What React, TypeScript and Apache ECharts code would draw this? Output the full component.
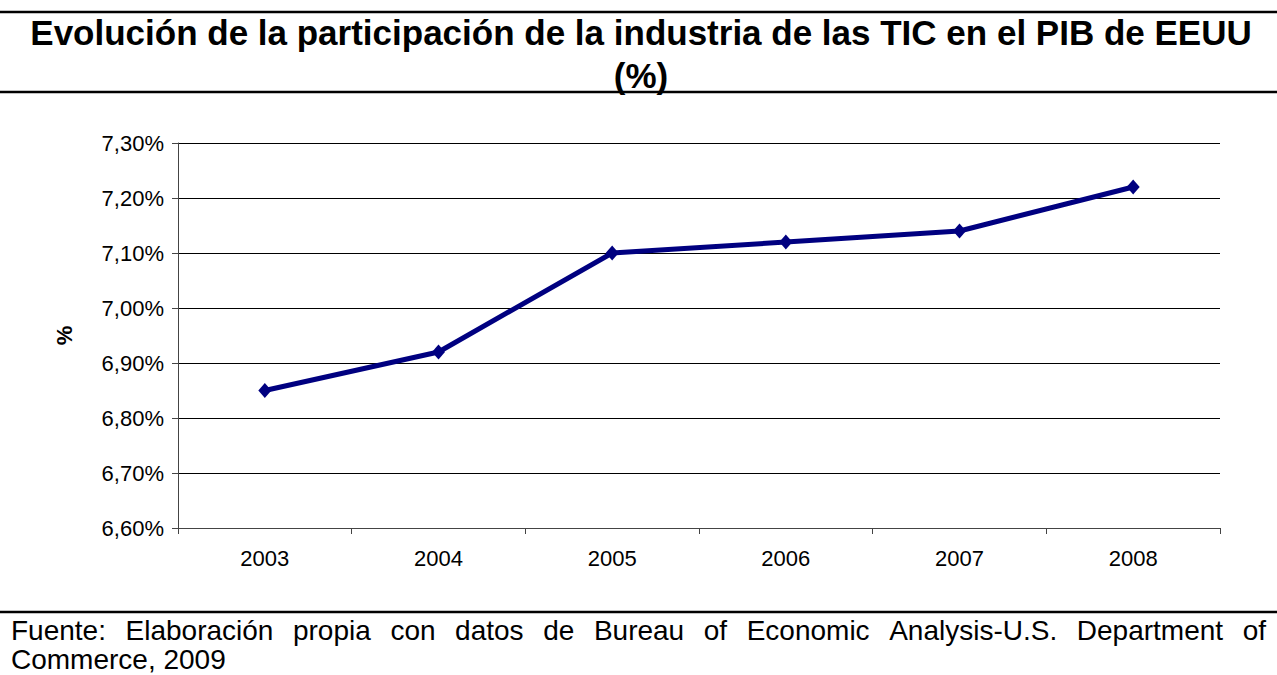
import React, { useEffect, useRef } from "react";
import * as echarts from "echarts";

const years = ["2003", "2004", "2005", "2006", "2007", "2008"];
const ictShare = [6.85, 6.92, 7.1, 7.12, 7.14, 7.22];
const yMin = 6.6;
const yMax = 7.3;
const yStep = 0.1;

const titleLine1 = "Evolución de la participación de la industria de las TIC en el PIB de EEUU";
const titleLine2 = "(%)";
const footerLine1 = "Fuente: Elaboración propia con datos de Bureau of Economic Analysis-U.S. Department of";
const footerLine2 = "Commerce, 2009";

const FONT = "'Liberation Sans', Arial, Helvetica, sans-serif";

function justifyWords(text: string, fontSize: number, left: number, right: number) {
  const words = text.split(" ");
  const canvas = document.createElement("canvas");
  const ctx = canvas.getContext("2d")!;
  ctx.font = `${fontSize}px ${FONT}`;
  const widths = words.map((w) => ctx.measureText(w).width);
  const total = widths.reduce((a, b) => a + b, 0);
  const gap = words.length > 1 ? (right - left - total) / (words.length - 1) : 0;
  let x = left;
  return words.map((w, i) => {
    const item = { w, x };
    x += widths[i] + gap;
    return item;
  });
}

export default function App() {
  const ref = useRef<HTMLDivElement>(null);
  useEffect(() => {
    if (!ref.current) return;
    const chart = echarts.init(ref.current, undefined, { renderer: "svg" });
    const footerSize = 28;
    const words = justifyWords(footerLine1, footerSize, 11, 1266);
    const graphics: any[] = [
      { type: "line", shape: { x1: 0, y1: 12, x2: 1277, y2: 12 }, style: { stroke: "#000", lineWidth: 2.5 } },
      { type: "line", shape: { x1: 0, y1: 92, x2: 1277, y2: 92 }, style: { stroke: "#000", lineWidth: 2.5 } },
      { type: "line", shape: { x1: 0, y1: 612, x2: 1277, y2: 612 }, style: { stroke: "#000", lineWidth: 2.5 } },
      {
        type: "text",
        x: 641,
        y: 32,
        style: { text: titleLine1, font: `bold 35px ${FONT}`, fill: "#000", textAlign: "center", textVerticalAlign: "middle" },
      },
      {
        type: "text",
        x: 641,
        y: 75,
        style: { text: titleLine2, font: `bold 35px ${FONT}`, fill: "#000", textAlign: "center", textVerticalAlign: "middle" },
      },
      ...words.map((it) => ({
        type: "text",
        x: it.x,
        y: 630,
        style: { text: it.w, font: `${footerSize}px ${FONT}`, fill: "#000", textAlign: "left", textVerticalAlign: "middle" },
      })),
      {
        type: "text",
        x: 11,
        y: 659,
        style: { text: footerLine2, font: `${footerSize}px ${FONT}`, fill: "#000", textAlign: "left", textVerticalAlign: "middle" },
      },
    ];
    chart.setOption({
      animation: false,
      backgroundColor: "#fff",
      textStyle: { fontFamily: FONT },
      grid: { left: 178, right: 57, top: 143, bottom: 147, containLabel: false },
      xAxis: {
        type: "category",
        data: years,
        boundaryGap: true,
        axisLine: { show: true, lineStyle: { color: "#444", width: 1 } },
        axisTick: { show: true, alignWithLabel: false, length: 6, lineStyle: { color: "#444" } },
        axisLabel: { color: "#000", fontSize: 22, margin: 19, fontFamily: FONT },
        splitLine: { show: false },
      },
      yAxis: {
        type: "value",
        min: yMin,
        max: yMax,
        interval: yStep,
        name: "%",
        nameLocation: "middle",
        nameGap: 103,
        nameRotate: 90,
        nameTextStyle: { color: "#000", fontSize: 22, fontWeight: "bold", fontFamily: FONT },
        axisLine: { show: true, lineStyle: { color: "#444", width: 1 } },
        axisTick: { show: true, length: 6, lineStyle: { color: "#444" } },
        axisLabel: {
          color: "#000",
          fontSize: 22,
          margin: 14,
          fontFamily: FONT,
          formatter: (v: number) => v.toFixed(2).replace(".", ",") + "%",
        },
        splitLine: { show: true, lineStyle: { color: "#000", width: 1 } },
      },
      series: [
        {
          type: "line",
          data: ictShare,
          symbol: "diamond",
          symbolSize: [13, 15],
          lineStyle: { color: "#000080", width: 5 },
          itemStyle: { color: "#000080" },
        },
      ],
      graphic: graphics,
    });
    return () => chart.dispose();
  }, []);
  return (
    <div
      ref={ref}
      style={{ position: "fixed", left: 0, top: 0, width: 1277, height: 675, background: "#fff" }}
    />
  );
}
